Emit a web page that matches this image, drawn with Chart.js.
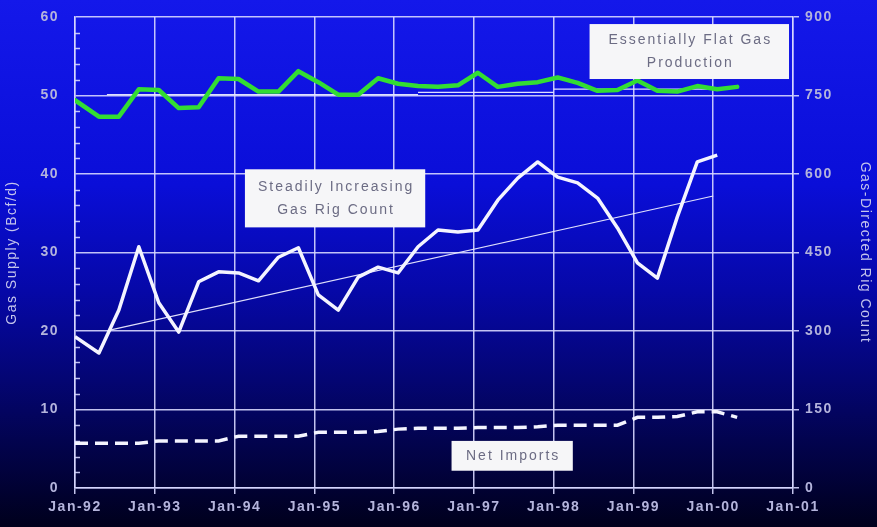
<!DOCTYPE html>
<html>
<head>
<meta charset="utf-8">
<script src="https://cdn.jsdelivr.net/npm/chart.js@4/dist/chart.umd.min.js"></script>
<style>
  html, body { margin: 0; padding: 0; background: #00001c; }
  #c { display: block; }
</style>
</head>
<body>
<canvas id="c" width="877" height="527"></canvas>
<script>
// quarterly sample dates (decimal years)
const quarters = [1992.0, 1992.3, 1992.55, 1992.8, 1993.05, 1993.3, 1993.55, 1993.8,
  1994.05, 1994.3, 1994.55, 1994.8, 1995.05, 1995.3, 1995.55, 1995.8,
  1996.05, 1996.3, 1996.55, 1996.8, 1997.05, 1997.3, 1997.55, 1997.8,
  1998.05, 1998.3, 1998.55, 1998.8, 1999.05, 1999.3, 1999.55, 1999.8,
  2000.05, 2000.3];

// Bcf/d, left axis
const production = [49.4, 47.3, 47.3, 50.8, 50.7, 48.4, 48.5, 52.2,
  52.1, 50.5, 50.5, 53.1, 51.7, 50.1, 50.1, 52.2,
  51.5, 51.2, 51.1, 51.3, 52.9, 51.1, 51.5, 51.7,
  52.3, 51.6, 50.6, 50.7, 51.9, 50.6, 50.5, 51.2,
  50.8, 51.1];
const netImports = [5.7, 5.7, 5.7, 5.7, 6.0, 6.0, 6.0, 6.0,
  6.6, 6.6, 6.6, 6.6, 7.1, 7.1, 7.1, 7.2,
  7.5, 7.6, 7.6, 7.6, 7.7, 7.7, 7.7, 7.8,
  8.0, 8.0, 8.0, 8.0, 9.0, 9.0, 9.1, 9.7,
  9.7, 9.0];

// gas-directed rigs, right axis (ends one quarter earlier)
const rigCount = [289, 258, 340, 461, 354, 298, 394, 413,
  411, 396, 441, 459, 369, 340, 403, 422,
  411, 461, 493, 489, 493, 550, 592, 623,
  594, 583, 554, 497, 430, 401, 518, 623,
  636];

// trend lines (production trend drawn in three flat pieces)
const prodTrendX = [1992.4, 1996.3, 1996.3, 1996.3, 1998.0, 1998.0, 1998.0, 2000.1];
const prodTrendY = [50.1, 50.1, null, 50.4, 50.4, null, 50.8, 50.8];
const rigTrendX = [1992.45, 2000.0];
const rigTrendY = [302, 558];

const yearTicks = [1992, 1993, 1994, 1995, 1996, 1997, 1998, 1999, 2000, 2001];

const notes = [
  { lines: ['Essentially Flat Gas', 'Production'], x0: 1998.45, x1: 2000.95, y0: 52.1, y1: 59.1 },
  { lines: ['Steadily Increasing', 'Gas Rig Count'], x0: 1994.13, x1: 1996.39, y0: 33.2, y1: 40.6 },
  { lines: ['Net Imports'], x0: 1996.72, x1: 1998.24, y0: 2.2, y1: 6.0 }
];

const pts = (xs, ys) => ys.map((v, i) => ({ x: xs[i], y: v }));

const gridCol = 'rgba(215,215,255,0.9)';
const labelCol = '#b4b4dc';
const fam = 'Arial, "Liberation Sans", sans-serif';
const tickFont = { family: fam, size: 14, weight: 'bold' };
const titleFont = { family: fam, size: 14 };

// keep the plot area edges fixed: drop tick-label overflow padding
const fitY = w => s => { s.width = w; s.paddingTop = 0; s.paddingBottom = 0; };

const backdrop = {
  id: 'backdrop',
  beforeDraw(chart) {
    const ctx = chart.ctx;
    const g = ctx.createLinearGradient(0, 0, 0, chart.height);
    g.addColorStop(0, '#1418ea');
    g.addColorStop(0.35, '#0a0ed8');
    g.addColorStop(0.55, '#0608a8');
    g.addColorStop(0.78, '#030460');
    g.addColorStop(1, '#00001c');
    ctx.save();
    ctx.fillStyle = g;
    ctx.fillRect(0, 0, chart.width, chart.height);
    ctx.restore();
    ctx.letterSpacing = '1.5px';
  },
  beforeDatasetsDraw(chart) {
    // minor ticks on left axis, inside the plot
    const ctx = chart.ctx, y = chart.scales.y, left = chart.chartArea.left;
    ctx.save();
    ctx.strokeStyle = gridCol;
    ctx.lineWidth = 1.5;
    for (let v = 2; v < 60; v += 2) {
      if (v % 10 === 0) continue;
      const py = Math.round(y.getPixelForValue(v)) + 0.5;
      ctx.beginPath();
      ctx.moveTo(left, py);
      ctx.lineTo(left + 5, py);
      ctx.stroke();
    }
    ctx.restore();
  },
  afterDatasetsDraw(chart) {
    const ctx = chart.ctx, sx = chart.scales.x, sy = chart.scales.y;
    ctx.save();
    ctx.letterSpacing = '2px';
    ctx.font = '14px ' + fam;
    ctx.textAlign = 'center';
    ctx.textBaseline = 'middle';
    notes.forEach(n => {
      const x0 = sx.getPixelForValue(n.x0), x1 = sx.getPixelForValue(n.x1);
      const y0 = sy.getPixelForValue(n.y1), y1 = sy.getPixelForValue(n.y0);
      ctx.fillStyle = '#f6f6f8';
      ctx.fillRect(x0, y0, x1 - x0, y1 - y0);
      ctx.fillStyle = '#6c6c84';
      const cx = (x0 + x1) / 2 + 1, cy = (y0 + y1) / 2;
      const lh = 23;
      n.lines.forEach((t, i) => {
        ctx.fillText(t, cx, cy + (i - (n.lines.length - 1) / 2) * lh);
      });
    });
    ctx.restore();
  }
};

new Chart(document.getElementById('c'), {
  type: 'line',
  data: {
    datasets: [
      {
        label: 'Gas Production',
        data: pts(quarters, production),
        yAxisID: 'y',
        borderColor: '#33dd33',
        borderWidth: 4.5,
        pointRadius: 0,
        borderJoinStyle: 'round',
        borderCapStyle: 'round'
      },
      {
        label: 'Gas Rig Count',
        data: pts(quarters, rigCount),
        yAxisID: 'y1',
        borderColor: '#f4f4ff',
        borderWidth: 3.5,
        pointRadius: 0,
        borderJoinStyle: 'round'
      },
      {
        label: 'Net Imports',
        data: pts(quarters, netImports),
        yAxisID: 'y',
        borderColor: '#f4f4ff',
        borderWidth: 3.5,
        borderDash: [13, 7],
        pointRadius: 0
      },
      {
        label: 'Production Trend',
        data: pts(prodTrendX, prodTrendY),
        yAxisID: 'y',
        borderColor: 'rgba(235,235,255,0.95)',
        borderWidth: 1.2,
        spanGaps: false,
        pointRadius: 0
      },
      {
        label: 'Rig Trend',
        data: pts(rigTrendX, rigTrendY),
        yAxisID: 'y1',
        borderColor: 'rgba(235,235,255,0.95)',
        borderWidth: 1.2,
        pointRadius: 0
      }
    ]
  },
  options: {
    responsive: false,
    animation: false,
    layout: { padding: { top: 17, left: 0, right: 0, bottom: 0 } },
    plugins: {
      legend: { display: false },
      tooltip: { enabled: false }
    },
    scales: {
      x: {
        type: 'linear',
        min: 1992,
        max: 2001,
        afterBuildTicks: s => { s.ticks = yearTicks.map(v => ({ value: v })); },
        afterFit: s => { s.height = 39; },
        ticks: {
          color: labelCol,
          font: tickFont,
          padding: 5,
          maxRotation: 0,
          callback: v => 'Jan-' + String(v).slice(2)
        },
        grid: { color: gridCol, lineWidth: 1.5, tickLength: 6 },
        border: { color: gridCol, width: 1.5 }
      },
      y: {
        position: 'left',
        min: 0,
        max: 60,
        afterFit: fitY(75),
        ticks: { stepSize: 10, color: labelCol, font: tickFont, padding: 16 },
        grid: { color: gridCol, lineWidth: 1.5, drawTicks: false },
        border: { color: gridCol, width: 1.5 },
        title: {
          display: true,
          text: 'Gas Supply (Bcf/d)',
          color: '#c4c4ec',
          font: titleFont,
          padding: { top: 4, bottom: 4 }
        }
      },
      y1: {
        position: 'right',
        min: 0,
        max: 900,
        afterFit: fitY(84),
        ticks: { stepSize: 150, color: labelCol, font: tickFont, padding: 6 },
        grid: { drawOnChartArea: false, color: gridCol, lineWidth: 1.5, tickLength: 6 },
        border: { color: gridCol, width: 1.5 },
        title: {
          display: true,
          text: 'Gas-Directed Rig Count',
          color: '#c4c4ec',
          font: titleFont,
          padding: { top: 4, bottom: 4 }
        }
      }
    }
  },
  plugins: [backdrop]
});
</script>
</body>
</html>
